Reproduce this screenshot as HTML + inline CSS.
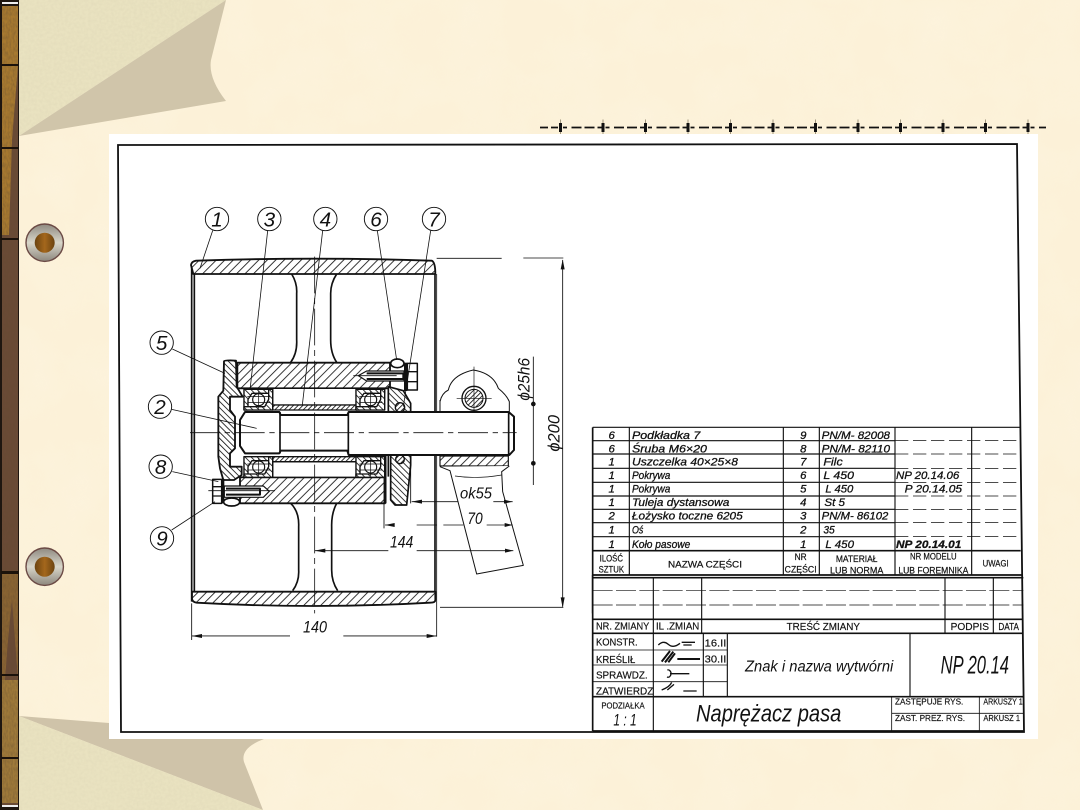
<!DOCTYPE html>
<html><head><meta charset="utf-8"><style>
html,body{margin:0;padding:0;width:1080px;height:810px;overflow:hidden;background:#fcf1d8}
svg{display:block}
text{font-family:"Liberation Sans",sans-serif;fill:#111}
.i{font-style:italic}
</style></head><body>
<svg width="1080" height="810" viewBox="0 0 1080 810" xmlns="http://www.w3.org/2000/svg">
<defs>
<pattern id="hA" patternUnits="userSpaceOnUse" width="18" height="18" patternTransform="rotate(45)"><rect width="18" height="18" fill="#fff"/><line x1="1" y1="0" x2="1" y2="18" stroke="#111" stroke-width="3"/></pattern>
<pattern id="hB" patternUnits="userSpaceOnUse" width="13" height="13" patternTransform="rotate(-45)"><rect width="13" height="13" fill="#fff"/><line x1="1" y1="0" x2="1" y2="13" stroke="#111" stroke-width="3"/></pattern>
<pattern id="hC" patternUnits="userSpaceOnUse" width="10" height="10" patternTransform="rotate(45)"><rect width="10" height="10" fill="#fff"/><line x1="1" y1="0" x2="1" y2="10" stroke="#111" stroke-width="3"/></pattern>
<linearGradient id="steel" x1="0" x2="0" y1="0" y2="1"><stop offset="0" stop-color="#8f8a80"/><stop offset=".5" stop-color="#d8d6ca"/><stop offset="1" stop-color="#8d877d"/></linearGradient>
<linearGradient id="core" x1="0" x2="1" y1="0" y2="0"><stop offset="0" stop-color="#6b4310"/><stop offset=".5" stop-color="#a4671c"/><stop offset="1" stop-color="#6b4310"/></linearGradient>
<filter id="mott" x="0" y="0" width="100%" height="100%"><feTurbulence type="fractalNoise" baseFrequency="0.02" numOctaves="3" seed="4"/><feColorMatrix values="0 0 0 0 1  0 0 0 0 0.96  0 0 0 0 0.84  0.9 0 0 0 -0.3"/></filter>
<filter id="grain" x="0" y="0" width="100%" height="100%"><feTurbulence type="fractalNoise" baseFrequency="0.35" numOctaves="2" seed="8"/><feColorMatrix values="0 0 0 0 0.55  0 0 0 0 0.5  0 0 0 0 0.35  0.7 0 0 0 -0.25"/></filter>
<filter id="wg" x="0" y="0" width="100%" height="100%"><feTurbulence type="fractalNoise" baseFrequency="0.6 0.25" numOctaves="2" seed="3"/><feColorMatrix values="0 0 0 0 0.12  0 0 0 0 0.07  0 0 0 0 0.03  1.2 0 0 0 -0.35"/></filter>
<clipPath id="c1"><path d="M19 0H226L19 136Z"/></clipPath>
<clipPath id="c2"><path d="M19 716L263 810H19Z"/></clipPath>
<g id="brg"><rect x="0" y="0" width="86" height="62" fill="#fff" stroke="#111" stroke-width="3.5"/><path d="M0 0H86V12H62L45 12 24 12 12 30V62H0Z" fill="url(#hB)"/><path d="M86 62H0V52H24L62 52 74 30V0H86Z" fill="url(#hB)"/><circle cx="44" cy="31" r="18" fill="#fff" stroke="#111" stroke-width="3.5"/><path d="M10 22H78M10 40H78M44 4V58" stroke="#111" stroke-width="2.2"/></g>
</defs>

<rect width="1080" height="810" fill="#fcf1d8"/>
<rect width="1080" height="810" filter="url(#mott)" opacity=".4"/>

<!-- page curls -->
<path d="M19 0H226L19 136Z" fill="#e9e2c0"/>
<g clip-path="url(#c1)"><rect width="230" height="140" filter="url(#grain)" opacity=".35"/></g>
<path d="M226 0L211 60Q208 78 226 101L19 136Z" fill="#d0c5aa"/>
<path d="M19 716L109 723V739H264Q240 748 244 762L263 810Z" fill="#cfc3a9"/>
<path d="M19 716L263 810H19Z" fill="#e9e2c0"/>
<g clip-path="url(#c2)"><rect y="710" width="270" height="100" filter="url(#grain)" opacity=".35"/></g>

<!-- wood strip -->
<rect x="0" y="0" width="19" height="810" fill="#1e1610"/>
<rect x="2" y="6" width="16" height="800" fill="#6a4a36"/>
<path d="M2 6H18V65L12 140L9 235H2Z" fill="#a87a30"/>
<path d="M2 572H18V680L12 600L8 640L5 680H2Z" fill="#8a6433"/>
<path d="M2 680H18V803H2Z" fill="#9f7a3a"/>
<rect x="2" y="6" width="16" height="800" filter="url(#wg)" opacity=".55"/>
<rect x="2" y="2" width="16" height="2" fill="#eee"/>
<rect x="2" y="805" width="16" height="2" fill="#eee"/>
<g fill="#1b120b"><rect x="1" y="64" width="18" height="2"/><rect x="1" y="147" width="18" height="2"/><rect x="1" y="238" width="18" height="2"/><rect x="1" y="571" width="18" height="3"/><rect x="1" y="674" width="18" height="2"/><rect x="1" y="757" width="18" height="2"/></g>

<!-- grommets -->
<g><circle cx="44.7" cy="242.7" r="18.7" fill="url(#steel)" stroke="#6b4a45" stroke-width="1.4"/><circle cx="44.7" cy="242.7" r="10" fill="url(#core)"/></g>
<g><circle cx="44.7" cy="566.7" r="18.7" fill="url(#steel)" stroke="#6b4a45" stroke-width="1.4"/><circle cx="44.7" cy="566.7" r="10" fill="url(#core)"/></g>

<!-- dash line -->
<g stroke="#8a8068" stroke-width=".8"><path d="M560.5 119.5V136M603 119.5V136M645.5 119.5V136M688 119.5V136M730.5 119.5V136M773 119.5V136M815.5 119.5V136M858 119.5V136M900.5 119.5V136M943 119.5V136M985.5 119.5V136M1028 119.5V136"/></g>
<path d="M563 127.5H1046" stroke="#111" stroke-width="1.7" stroke-dasharray="4 4.5 10 3 10 3 4 4" fill="none"/>
<path d="M540 127.5H548M551 127.5H558" stroke="#111" stroke-width="1.7" fill="none"/>
<g fill="#111">
<rect x="559" y="123" width="3" height="9"/><rect x="601.5" y="123" width="3" height="9"/><rect x="644" y="123" width="3" height="9"/><rect x="686.5" y="123" width="3" height="9"/><rect x="729" y="123" width="3" height="9"/><rect x="771.5" y="123" width="3" height="9"/><rect x="814" y="123" width="3" height="9"/><rect x="856.5" y="123" width="3" height="9"/><rect x="899" y="123" width="3" height="9"/><rect x="941.5" y="123" width="3" height="9"/><rect x="984" y="123" width="3" height="9"/><rect x="1026.5" y="123" width="3" height="9"/>
</g>

<!-- white sheet -->
<rect x="109" y="134" width="929" height="605" fill="#fff"/>
<path d="M118 145L1017 144L1024 732L121 732Z" fill="none" stroke="#111" stroke-width="1.8"/>

<!-- DRAWING: zoom coords -->
<g transform="translate(140,200) scale(.33333)" fill="none" stroke="#111" stroke-width="4" stroke-linejoin="round">
<path d="M155 195V1205M163 222V1178" stroke-width="5"/>
<path d="M885 222V1175" stroke-width="5"/><path d="M890 222V1310" stroke-width="2.5"/>
<path d="M153 195Q155 184 168 182Q520 170 875 182Q886 186 886 222H160Z" fill="url(#hA)" stroke-width="5.5"/>
<path d="M156 1175H886V1200Q886 1208 870 1208Q520 1228 170 1208Q156 1206 156 1195Z" fill="url(#hA)" stroke-width="5.5"/>
<path d="M455 222Q472 250 470 280V420Q472 460 452 487M590 222Q572 250 572 280V420Q572 460 590 487M452 910Q478 935 476 980V1110Q478 1145 458 1172M590 910Q574 940 575 980V1110Q575 1145 593 1172" stroke-width="5"/>
<path d="M292 488H750V565H292Z" fill="url(#hA)" stroke-width="5.5"/>
<path d="M300 832H735V910H300Z" fill="url(#hA)" stroke-width="5.5"/>
<rect x="398" y="565" width="252" height="50" fill="#fff" stroke-width="4"/>
<rect x="398" y="785" width="252" height="47" fill="#fff" stroke-width="4"/>
<rect x="398" y="615" width="252" height="15" fill="url(#hC)" stroke-width="4"/>
<rect x="398" y="770" width="252" height="15" fill="url(#hC)" stroke-width="4"/>
<use href="#brg" x="312" y="568"/><use href="#brg" x="648" y="568"/><use href="#brg" x="312" y="770"/><use href="#brg" x="648" y="770"/>
<path d="M252 484Q254 480 288 482L290 560L308 590H270V630L285 650V745L270 760V800H305V825L282 840H250L240 805L235 770V590L250 572Z" fill="url(#hB)" stroke-width="5.5"/>
<path d="M745 560L790 572L812 610V635H745Z" fill="url(#hB)" stroke-width="5"/>
<path d="M752 765H812V795L800 915H765L752 900Z" fill="url(#hB)" stroke-width="5"/>
<circle cx="780" cy="622" r="14" fill="url(#hC)" stroke-width="4"/><circle cx="780" cy="778" r="13" fill="url(#hC)" stroke-width="4"/>
<path d="M737 765V910M745 765V830" stroke-width="5"/>
<path d="M900 605Q905 580 925 570Q935 525 1000 510Q1060 520 1075 565Q1100 585 1108 605V635M900 600V635" stroke-width="3"/>
<circle cx="1002" cy="595" r="36" fill="#fff" stroke-width="4"/><circle cx="1002" cy="595" r="27" fill="url(#hC)" stroke-width="3"/>
<path d="M950 595H1055M1002 500V650" stroke-width="2"/>
<path d="M900 768H1105V798H900Z" fill="url(#hA)" stroke-width="3.5"/>
<path d="M900 800L930 812L1010 1122L1150 1096L1088 875L1085 815L1108 798" stroke-width="3" fill="#fff"/>
<path d="M945 828Q1010 838 1085 825" stroke-width="2"/>
<path d="M300 660L315 636H418L422 645H622L626 636H1106L1122 650V750L1108 765H626L622 752H422L418 760H315L300 738Z" fill="#fff" stroke-width="6"/>
<path d="M420 636V760M625 636V765M1106 636V765" stroke-width="5"/>
<path d="M655 527L680 513H792V543H680Z" fill="#fff" stroke-width="3.5"/>
<path d="M680 520H790V537H680" stroke-width="6"/>
<rect x="802" y="490" width="30" height="80" fill="#fff" stroke-width="4.5"/>
<path d="M802 515H832M802 545H832"/>
<rect x="792" y="488" width="10" height="85" fill="#111" stroke="none"/>
<ellipse cx="772" cy="490" rx="20" ry="13" fill="#fff" stroke-width="5"/>
<rect x="218" y="838" width="27" height="72" fill="#fff" stroke-width="4.5"/>
<path d="M218 860H245M218 888H245"/>
<rect x="245" y="838" width="8" height="72" fill="#111" stroke="none"/>
<path d="M253 858H370L388 874L370 892H253Z" fill="#fff" stroke-width="3.5"/>
<path d="M258 866H360V884H258" stroke-width="6"/>
<ellipse cx="275" cy="906" rx="24" ry="12" fill="#fff" stroke-width="5"/>
<g stroke-width="2.4">
<path d="M524 170V1240" stroke-dasharray="110 14 18 14"/>
<path d="M150 698H1130" stroke-dasharray="90 14 16 14"/>
<path d="M640 527H770"/>
<path d="M205 872H405"/>
</g>
<g stroke-width="2.6">
<path d="M890 175H1085M1150 174H1270M900 1222H1270M1268 180V1220"/>
<path d="M1180 470V855"/>
<path d="M155 1210V1320M155 1308H450M610 1308H890"/>
<path d="M524 1052H745M830 1052H1120"/>
<path d="M735 975H760M830 975H890M910 975H970M1040 975H1118M732 830V985"/>
<path d="M815 905H955M1060 905H1118M812 780V910"/>
</g>
<g fill="#111" stroke="none">
<path d="M1268 178L1262 208H1274ZM1268 1224L1262 1192H1274ZM155 1308L186 1302V1314ZM890 1308L860 1302V1314ZM524 1052L556 1046V1058ZM1120 1052L1095 1046V1058ZM735 975L764 969V981ZM1118 975L1094 969V981ZM815 905L846 899V911ZM1118 905L1092 899V911Z"/>
<circle cx="1180" cy="612" r="7"/><circle cx="1180" cy="790" r="7"/>
</g>
<g stroke-width="2.4">
<path d="M218 92L180 205M383 92L330 570M548 92L487 615M712 92L770 480M872 92L790 620M97 447L255 520M95 628L350 685M97 815L235 845M95 990L225 905"/>
</g>
<g fill="#fff" stroke-width="2.8">
<circle cx="231" cy="57" r="35"/><circle cx="388" cy="57" r="35"/><circle cx="556" cy="57" r="35"/><circle cx="708" cy="57" r="35"/><circle cx="882" cy="57" r="35"/><circle cx="65" cy="428" r="35"/><circle cx="60" cy="620" r="35"/><circle cx="62" cy="800" r="35"/><circle cx="66" cy="1015" r="35"/>
</g>
<g stroke="none" text-anchor="middle" font-size="62">
<text x="231" y="79" class="i">1</text><text x="388" y="79" class="i">3</text><text x="556" y="79" class="i">4</text><text x="708" y="79" class="i">6</text><text x="882" y="79" class="i">7</text><text x="65" y="450" class="i">5</text><text x="60" y="642" class="i">2</text><text x="62" y="822" class="i">8</text><text x="66" y="1037" class="i">9</text>
<text x="525" y="1297" font-size="50" class="i" textLength="72" lengthAdjust="spacingAndGlyphs">140</text>
<text x="785" y="1043" font-size="50" class="i" textLength="70" lengthAdjust="spacingAndGlyphs">144</text>
<text x="1005" y="972" font-size="50" class="i" textLength="46" lengthAdjust="spacingAndGlyphs">70</text>
<text x="1008" y="896" font-size="48" class="i" textLength="96" lengthAdjust="spacingAndGlyphs">ok55</text>
<text transform="translate(1258,700) rotate(-90)" font-size="50" class="i" textLength="110" lengthAdjust="spacingAndGlyphs">ϕ200</text>
<text transform="translate(1168,538) rotate(-90)" font-size="50" class="i" textLength="128" lengthAdjust="spacingAndGlyphs">ϕ25h6</text>
</g>
</g>

<!-- PARTS TABLE -->
<g transform="translate(590,420) scale(.33333)" fill="none" stroke="#111">
<g stroke-width="3.4">
<path d="M8 22H1290M8 62H915M8 102H915M8 145H915M8 187H915M8 228H915M8 268H915M8 308H915M8 350H915"/>
<path d="M915 62H1290M915 102H1290M915 145H1290M915 187H1290M915 228H1290M915 268H1290M915 308H1290M915 350H1290" stroke-width="2.2" stroke-dasharray="40 14"/>
<path d="M118 22V392M580 22V392M688 22V392M915 22V392M1145 22V392"/>
</g>
<path d="M8 392H1292" stroke-width="5"/>
<path d="M8 465H1296" stroke-width="5"/>
<path d="M118 392V465M580 392V465M688 392V465M915 392V465M1145 392V465" stroke-width="3.5"/>
<path d="M8 22V580" stroke-width="5"/>
<g stroke="#111" stroke-width=".9" font-size="34">
<g text-anchor="middle">
<text x="65" y="57" class="i">6</text><text x="65" y="97" class="i">6</text><text x="65" y="137" class="i">1</text><text x="65" y="177" class="i">1</text><text x="65" y="218" class="i">1</text><text x="65" y="258" class="i">1</text><text x="65" y="299" class="i">2</text><text x="65" y="340" class="i">1</text><text x="65" y="384" class="i">1</text>
<text x="640" y="57" class="i">9</text><text x="640" y="97" class="i">8</text><text x="640" y="137" class="i">7</text><text x="640" y="177" class="i">6</text><text x="640" y="218" class="i">5</text><text x="640" y="258" class="i">4</text><text x="640" y="299" class="i">3</text><text x="640" y="340" class="i">2</text><text x="640" y="384" class="i">1</text>
</g>
<text x="126" y="57" class="i" textLength="205" lengthAdjust="spacingAndGlyphs">Podkładka 7</text>
<text x="126" y="97" class="i" textLength="225" lengthAdjust="spacingAndGlyphs">Śruba M6×20</text>
<text x="126" y="137" class="i" textLength="318" lengthAdjust="spacingAndGlyphs">Uszczelka 40×25×8</text>
<text x="126" y="177" class="i" textLength="115" lengthAdjust="spacingAndGlyphs">Pokrywa</text>
<text x="126" y="218" class="i" textLength="115" lengthAdjust="spacingAndGlyphs">Pokrywa</text>
<text x="126" y="258" class="i" textLength="292" lengthAdjust="spacingAndGlyphs">Tuleja dystansowa</text>
<text x="126" y="299" class="i" textLength="332" lengthAdjust="spacingAndGlyphs">Łożysko toczne 6205</text>
<text x="126" y="340" class="i" textLength="34" lengthAdjust="spacingAndGlyphs">Oś</text>
<text x="126" y="384" class="i" textLength="175" lengthAdjust="spacingAndGlyphs">Koło pasowe</text>
<text x="695" y="57" class="i" textLength="205" lengthAdjust="spacingAndGlyphs">PN/M- 82008</text>
<text x="695" y="97" class="i" textLength="205" lengthAdjust="spacingAndGlyphs">PN/M- 82110</text>
<text x="700" y="137" class="i" textLength="58" lengthAdjust="spacingAndGlyphs">Filc</text>
<text x="700" y="177" class="i" textLength="92" lengthAdjust="spacingAndGlyphs">L 450</text>
<text x="706" y="218" class="i" textLength="84" lengthAdjust="spacingAndGlyphs">L 450</text>
<text x="703" y="258" class="i" textLength="62" lengthAdjust="spacingAndGlyphs">St 5</text>
<text x="695" y="299" class="i" textLength="200" lengthAdjust="spacingAndGlyphs">PN/M- 86102</text>
<text x="700" y="340" class="i" textLength="34" lengthAdjust="spacingAndGlyphs">35</text>
<text x="706" y="384" class="i" textLength="86" lengthAdjust="spacingAndGlyphs">L 450</text>
<text x="918" y="177" class="i" textLength="190" lengthAdjust="spacingAndGlyphs">NP 20.14.06</text>
<text x="944" y="218" class="i" textLength="172" lengthAdjust="spacingAndGlyphs">P 20.14.05</text>
<text x="918" y="384" class="i" font-weight="bold" textLength="196" lengthAdjust="spacingAndGlyphs">NP 20.14.01</text>
</g>
<g stroke="#111" stroke-width=".6" font-size="27" text-anchor="middle">
<text x="64" y="424" textLength="70" lengthAdjust="spacingAndGlyphs">ILOŚĆ</text>
<text x="64" y="458" textLength="76" lengthAdjust="spacingAndGlyphs">SZTUK</text>
<text x="345" y="442" textLength="222" lengthAdjust="spacingAndGlyphs">NAZWA CZĘŚCI</text>
<text x="632" y="420" textLength="36" lengthAdjust="spacingAndGlyphs">NR</text>
<text x="632" y="458" textLength="96" lengthAdjust="spacingAndGlyphs">CZĘŚCI</text>
<text x="800" y="426" textLength="125" lengthAdjust="spacingAndGlyphs">MATERIAŁ</text>
<text x="800" y="460" textLength="160" lengthAdjust="spacingAndGlyphs">LUB NORMA</text>
<text x="1030" y="418" textLength="140" lengthAdjust="spacingAndGlyphs">NR MODELU</text>
<text x="1030" y="460" textLength="210" lengthAdjust="spacingAndGlyphs">LUB FOREMNIKA</text>
<text x="1217" y="440" textLength="78" lengthAdjust="spacingAndGlyphs">UWAGI</text>
</g>
</g>

<!-- TITLE BLOCK -->
<g transform="translate(590,575) scale(.33333)" fill="none" stroke="#111">
<path d="M8 8H1300M8 133H1300M8 175H1300M8 365H1302M8 468H1300" stroke-width="5"/>
<path d="M8 47H1300M8 90H1300" stroke-width="2" stroke-dasharray="60 10"/>
<path d="M190 8V175M335 8V175M1065 8V175M1210 8V175" stroke-width="3.4"/>
<path d="M190 175V468M340 175V365M412 175V365M960 175V365" stroke-width="3.4"/>
<path d="M905 365V468M1168 365V468M905 415H1300M8 225H190M8 270H190M8 320H412M190 225H412M190 270H412" stroke-width="2.5"/>
<path d="M8 0V468" stroke-width="5"/>
<g stroke-width="4">
<path d="M205 210Q220 195 235 208T270 205M275 202H315M280 210H305"/>
<path d="M215 260L240 228M225 262L250 230M235 262L255 235M262 252H330" stroke-width="6"/>
<path d="M232 285A9 11 0 1 1 231 306M240 296H298"/>
<path d="M215 345Q240 335 245 322M232 345L252 328M280 348H320"/>
</g>
<g stroke="#111" stroke-width=".5" font-size="29">
<text x="18" y="164" textLength="160" lengthAdjust="spacingAndGlyphs">NR. ZMIANY</text>
<text x="198" y="164" textLength="130" lengthAdjust="spacingAndGlyphs">IL .ZMIAN</text>
<text x="700" y="165" text-anchor="middle" textLength="220" lengthAdjust="spacingAndGlyphs">TREŚĆ ZMIANY</text>
<text x="1082" y="165" textLength="115" lengthAdjust="spacingAndGlyphs">PODPIS</text>
<text x="1225" y="165" textLength="62" lengthAdjust="spacingAndGlyphs">DATA</text>
<text x="18" y="212" textLength="125" lengthAdjust="spacingAndGlyphs">KONSTR.</text>
<text x="18" y="264" textLength="118" lengthAdjust="spacingAndGlyphs">KREŚLIŁ</text>
<text x="18" y="310" textLength="155" lengthAdjust="spacingAndGlyphs">SPRAWDZ.</text>
<text x="18" y="358" textLength="172" lengthAdjust="spacingAndGlyphs">ZATWIERDZ</text>
<text x="344" y="214" textLength="65" lengthAdjust="spacingAndGlyphs">16.II</text>
<text x="344" y="262" textLength="65" lengthAdjust="spacingAndGlyphs">30.II</text>
<text x="34" y="401" textLength="130" lengthAdjust="spacingAndGlyphs" font-size="26">PODZIAŁKA</text>
<text x="915" y="388" textLength="205" lengthAdjust="spacingAndGlyphs" font-size="25">ZASTĘPUJE RYS.</text>
<text x="915" y="438" textLength="210" lengthAdjust="spacingAndGlyphs" font-size="25">ZAST. PREZ. RYS.</text>
<text x="1180" y="388" textLength="118" lengthAdjust="spacingAndGlyphs" font-size="24">ARKUSZY 1</text>
<text x="1180" y="438" textLength="110" lengthAdjust="spacingAndGlyphs" font-size="24">ARKUSZ 1</text>
</g>
<g stroke="none">
<text x="465" y="290" class="i" font-size="46" textLength="445" lengthAdjust="spacingAndGlyphs">Znak i nazwa wytwórni</text>
<text x="1052" y="295" class="i" font-size="74" textLength="205" lengthAdjust="spacingAndGlyphs">NP 20.14</text>
<text x="70" y="452" class="i" font-size="50" textLength="70" lengthAdjust="spacingAndGlyphs">1 : 1</text>
<text x="318" y="440" class="i" font-size="72" textLength="436" lengthAdjust="spacingAndGlyphs">Naprężacz pasa</text>
</g>
</g>
</svg>
</body></html>
